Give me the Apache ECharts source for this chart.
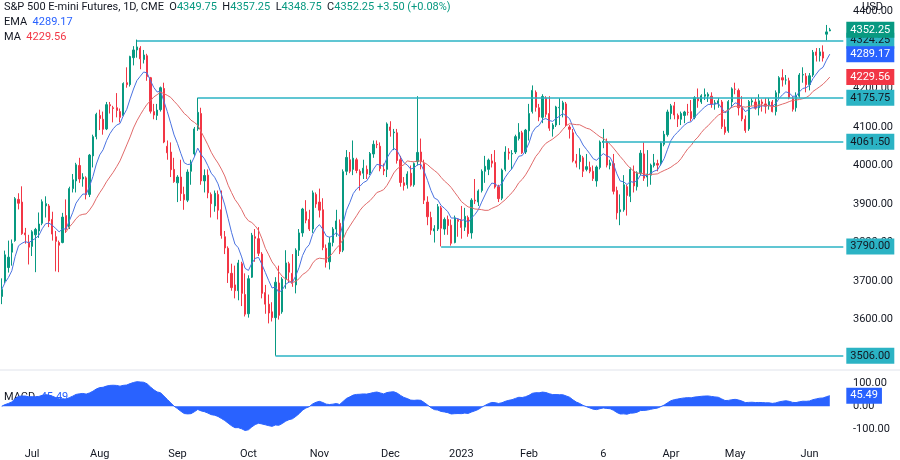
<!DOCTYPE html>
<html><head><meta charset="utf-8">
<script src="https://cdn.jsdelivr.net/npm/echarts@6/dist/echarts.min.js"></script>
<style>html,body{margin:0;padding:0;background:#fff}#c{width:900px;height:460px}</style>
</head><body><div id="c"></div>
<script>
const holidays=['2022-06-20','2022-07-04','2022-09-05','2022-11-24','2022-12-26','2023-01-02','2023-01-16','2023-02-20','2023-04-07','2023-05-29'];
const opens=[3660,3700,3735,3775,3805,3912,3905,3825,3800,3790,3820,3830,3850,3895,3895,3860,3815,3800,3800,3870,3840,3940,3960,4000,3965,3968,3925,4025,4075,4130,4120,4095,4158,4150,4150,4140,4130,4215,4210,4280,4300,4305,4275,4285,4228,4140,4130,4145,4200,4050,4035,3990,3955,3970,3925,3910,3985,4030,4095,4135,3960,3975,3925,3895,3925,3885,3815,3785,3720,3690,3675,3745,3665,3615,3710,3815,3810,3770,3670,3640,3620,3605,3695,3620,3705,3745,3720,3690,3780,3825,3880,3860,3835,3925,3905,3885,3785,3750,3800,3835,3850,3780,3985,4015,3990,4015,3985,3980,3990,3980,4030,4055,4050,3990,3990,4100,4085,4085,4015,3955,3950,3980,3950,4010,4035,4005,3905,3865,3830,3835,3890,3835,3860,3845,3800,3860,3860,3840,3865,3825,3910,3905,3935,3985,3990,4012,4008,3945,3915,3990,4035,4030,4035,4070,4085,4035,4090,4140,4190,4150,4125,4175,4135,4095,4105,4150,4145,4160,4100,4085,4012,4010,4020,3990,3995,3985,3960,3995,4060,4060,4000,4005,3935,3880,3885,3945,3920,3985,3945,3980,4030,3970,3975,4000,4005,4005,4055,4080,4135,4155,4130,4120,4130,4138,4140,4125,4175,4165,4180,4180,4180,4160,4160,4165,4100,4090,4165,4198,4195,4150,4120,4095,4165,4165,4150,4165,4160,4155,4165,4140,4188,4228,4222,4220,4175,4150,4180,4235,4232,4210,4235,4295,4285,4295,4341,4349.75];
const closes=[3678,3768,3762,3797,3914,3902,3823,3820,3788,3828,3834,3848,3906,3901,3856,3822,3803,3793,3866,3834,3940,3963,4002,3965,3970,3924,4027,4075,4133,4122,4094,4158,4155,4148,4143,4125,4213,4210,4283,4300,4308,4277,4287,4231,4141,4131,4144,4202,4061,4033,3989,3958,3970,3927,3911,3983,4009,4095,4138,3960,3974,3929,3901,3928,3884,3818,3786,3721,3683,3675,3747,3668,3614,3706,3819,3811,3772,3668,3640,3617,3605,3697,3611,3705,3747,3723,3694,3780,3825,3887,3858,3835,3929,3900,3884,3787,3748,3799,3835,3856,3777,3984,4021,3985,4019,3987,3975,3993,3978,4031,4055,4054,3992,3986,4108,4091,4087,4013,3956,3948,3978,3949,4005,4034,4010,3910,3867,3832,3836,3893,3837,3860,3844,3798,3864,3855,3839,3868,3823,3910,3908,3934,3985,3998,4014,4006,3944,3914,3988,4035,4032,4031,4075,4086,4033,4092,4135,4195,4151,4126,4179,4133,4097,4105,4152,4151,4163,4105,4094,4012,4006,4027,3985,3997,3985,3966,3996,4061,4063,4001,4007,3933,3877,3885,3950,3922,3990,3947,3981,4032,3967,3978,4001,4007,4001,4058,4081,4139,4155,4131,4121,4135,4139,4138,4122,4176,4168,4181,4184,4185,4160,4163,4168,4101,4086,4166,4199,4198,4150,4121,4091,4166,4168,4149,4168,4161,4154,4166,4140,4189,4228,4222,4222,4176,4146,4181,4235,4236,4210,4233,4294,4286,4295,4279,4347,4352.25];
const lows=[3640,3695,3722,3740,3802,3886,3820,3797,3743,3765,3723,3812,3845,3865,3840,3805,3725,3723,3798,3825,3835,3930,3930,3955,3945,3912,3918,3995,4068,4092,4080,4092,4135,4112,4125,4112,4128,4202,4205,4260,4280,4250,4265,4220,4135,4120,4118,4140,4058,4015,3970,3955,3905,3908,3885,3905,3950,4025,4090,3950,3930,3915,3865,3880,3860,3810,3770,3695,3675,3655,3650,3635,3608,3605,3708,3750,3765,3655,3615,3590,3595,3506,3600,3615,3680,3695,3685,3668,3765,3815,3850,3830,3825,3890,3865,3780,3735,3730,3790,3815,3770,3775,3975,3980,3975,3980,3935,3965,3965,3975,4020,4045,3985,3975,3970,4075,4040,4005,3945,3935,3940,3945,3945,4000,3990,3900,3845,3820,3800,3830,3790,3820,3820,3792,3798,3815,3810,3830,3815,3810,3900,3895,3930,3955,3975,3995,3940,3905,3910,3985,4015,3990,4030,4065,4030,4030,4065,4135,4140,4115,4110,4125,4090,4075,4100,4105,4125,4100,4070,4008,3995,3990,3970,3985,3980,3960,3945,3990,4045,3995,3990,3925,3860,3845,3880,3870,3905,3930,3935,3975,3960,3945,3950,3995,3985,4000,4050,4075,4120,4120,4100,4105,4110,4130,4115,4120,4150,4160,4170,4165,4150,4145,4150,4095,4080,4085,4150,4185,4130,4115,4085,4090,4155,4145,4130,4140,4135,4145,4138,4130,4175,4205,4210,4172,4140,4140,4175,4215,4190,4195,4230,4270,4270,4270,4325,4348.75];
const highs=[3707,3779,3805,3808,3918,3928,3946,3838,3820,3832,3838,3878,3912,3920,3900,3880,3830,3805,3877,3912,3945,3978,4007,4020,3980,3972,4030,4080,4137,4145,4140,4165,4165,4155,4188,4148,4216,4255,4285,4310,4327,4310,4300,4290,4230,4160,4160,4205,4215,4065,4060,4020,3975,4015,3945,3990,4015,4100,4176,4150,3990,3990,3930,3935,3935,3935,3830,3790,3745,3740,3755,3750,3720,3715,3825,3835,3840,3775,3690,3665,3645,3710,3740,3710,3780,3750,3770,3785,3835,3890,3910,3885,3935,3930,3940,3915,3795,3815,3840,3885,3860,3990,4040,4035,4065,4020,3990,4015,4000,4035,4065,4065,4060,4005,4112,4115,4095,4095,4025,3970,3985,4000,4008,4180,4070,4015,3920,3880,3845,3900,3895,3865,3870,3860,3870,3862,3895,3890,3870,3915,3965,3938,3990,4025,4018,4030,4040,3950,3992,4050,4045,4040,4080,4110,4090,4095,4160,4208,4195,4160,4185,4180,4180,4110,4155,4175,4168,4165,4105,4095,4030,4045,4025,4030,4010,4000,4000,4065,4095,4070,4015,4030,3945,3925,3975,3950,3995,4000,3985,4040,4060,4040,4005,4030,4015,4062,4090,4145,4160,4165,4135,4140,4142,4160,4170,4180,4200,4185,4200,4190,4190,4170,4175,4170,4120,4170,4203,4215,4200,4180,4130,4170,4175,4175,4185,4172,4175,4175,4170,4195,4232,4250,4235,4228,4180,4190,4240,4255,4240,4240,4300,4305,4305,4312,4365,4357.25];
const monthTicks={'2022-07-01':'Jul','2022-08-01':'Aug','2022-09-01':'Sep','2022-10-03':'Oct','2022-11-01':'Nov','2022-12-01':'Dec','2023-01-03':'2023','2023-02-01':'Feb','2023-03-06':'6','2023-04-03':'Apr','2023-05-01':'May','2023-06-01':'Jun'};
const levelValues=[4324.25,4175.75,4061.50,3790.00,3506.00];
const levelStarts=['2022-08-16','2022-09-12','2023-03-06','2022-12-22','2022-10-13'];
const priceTicks=[3600,3700,3800,3900,4000,4100,4200,4300,4400];
const macdTicks=[-100,0,100];

const dates=[];
for(let t=Date.UTC(2022,5,17);t<=Date.UTC(2023,5,9);t+=86400000){
  const d=new Date(t),w=d.getUTCDay(),s=d.toISOString().slice(0,10);
  if(w===0||w===6||holidays.includes(s))continue;dates.push(s);
}
const cats=dates.concat(['p1','p2','p3','p4']);
const n=closes.length;
const candle=closes.map((c,i)=>[opens[i],c,lows[i],highs[i]]);
function ema(arr,p){const k=2/(p+1);let e=null;return arr.map(v=>{e=e===null?v:v*k+e*(1-k);return e;});}
const ema9=ema(closes,9);
const ma20=closes.map((v,i)=>{if(i<19)return null;let s=0;for(let j=i-19;j<=i;j++)s+=closes[j];return s/20;});
const e12=ema(closes,12),e26=ema(closes,26);
const macd=closes.map((v,i)=>e12[i]-e26[i]);
const last=cats[cats.length-1];
const lastEma=ema9[n-1],lastMa=ma20[n-1],lastMacd=macd[n-1];
const lvlLabel=(v,bg,fg)=>({show:true,position:'end',distance:3,formatter:()=>v.toFixed(2),backgroundColor:bg,color:fg,padding:[3,4,2,4],fontSize:11,fontFamily:'Roboto'});
const hid={color:'rgba(0,0,0,0)'};
const pair=(start,v,bg,fg,ls)=>{const a={coord:[start,v],label:lvlLabel(v,bg,fg)},b={coord:[last,v],label:lvlLabel(v,bg,fg)};if(ls){a.lineStyle=ls;b.lineStyle=ls;}return [a,b];};
const levelLines=levelValues.map((v,i)=>pair(levelStarts[i],v,'#2BB3C4','#131722'));
levelLines.push(pair(dates[0],closes[n-1],'#089981','#fff',hid));
levelLines.push(pair(dates[0],lastEma,'#2962FF','#fff',hid));
levelLines.push(pair(dates[0],lastMa,'#F23645','#fff',hid));

const chart=echarts.init(document.getElementById('c'));
const g='#089981';
chart.setOption({
  animation:false,
  textStyle:{fontFamily:'Roboto'},
  grid:[{left:0,right:55,top:8,height:362},{left:0,right:55,top:371.5,height:75}],
  xAxis:[
    {type:'category',data:cats,gridIndex:0,axisLine:{show:false},axisTick:{show:false},axisLabel:{show:false},splitLine:{show:false}},
    {type:'category',data:cats,gridIndex:1,axisLine:{show:false},axisTick:{show:false},splitLine:{show:false},
     axisLabel:{interval:(i,v)=>!!monthTicks[v],formatter:v=>monthTicks[v]||'',color:'#131722',fontSize:11,margin:8}}
  ],
  yAxis:[
    {type:'value',gridIndex:0,position:'right',min:3469,max:4409,splitLine:{show:false},axisLine:{show:false},axisTick:{show:false},
     axisLabel:{color:'#131722',fontSize:11,margin:8,customValues:priceTicks,formatter:v=>v.toFixed(2)}},
    {type:'value',gridIndex:1,position:'right',min:-150,max:150,interval:50,splitLine:{show:false},axisLine:{show:false},axisTick:{show:false},
     axisLabel:{color:'#131722',fontSize:11,margin:8,formatter:v=>macdTicks.includes(v)?v.toFixed(2):''}}
  ],
  series:[
    {type:'candlestick',data:candle,xAxisIndex:0,yAxisIndex:0,barMaxWidth:3,
     itemStyle:{color:g,color0:'#F23645',borderColor:g,borderColor0:'#F23645',borderWidth:1},
     markLine:{silent:true,symbol:'none',lineStyle:{color:'#2BB3C4',width:1.5,type:'solid'},data:levelLines,animation:false}},
    {type:'line',data:ema9,xAxisIndex:0,yAxisIndex:0,showSymbol:false,lineStyle:{color:'#4A72E0',width:1}},
    {type:'line',data:ma20,xAxisIndex:0,yAxisIndex:0,showSymbol:false,lineStyle:{color:'#E06A6A',width:1}},
    {type:'line',data:macd,xAxisIndex:1,yAxisIndex:1,showSymbol:false,lineStyle:{color:'#2962FF',width:1},
     areaStyle:{color:'#2962FF',opacity:1,origin:0},
     markLine:{silent:true,symbol:'none',data:[pair(dates[0],lastMacd,'#2962FF','#fff',hid)]}}
  ],
  graphic:[
    {type:'text',left:4,top:2,style:{text:'S&P 500 E-mini Futures, 1D, CME  O{g|'+opens[n-1].toFixed(2)+'}  H{g|'+highs[n-1].toFixed(2)+'}  L{g|'+lows[n-1].toFixed(2)+'}  C{g|'+closes[n-1].toFixed(2)+' +3.50 (+0.08%)}',
      font:'11px Roboto',fill:'#131722',rich:{g:{fill:g,font:'11px Roboto'}}}},
    {type:'text',left:4,top:17,style:{text:'EMA  {b|'+lastEma.toFixed(2)+'}',font:'11px Roboto',fill:'#131722',rich:{b:{fill:'#2962FF',font:'11px Roboto'}}}},
    {type:'text',left:4,top:32,style:{text:'MA  {r|'+lastMa.toFixed(2)+'}',font:'11px Roboto',fill:'#131722',rich:{r:{fill:'#F23645',font:'11px Roboto'}}}},
    {type:'text',left:862,top:2,style:{text:'USD',font:'11px Roboto',fill:'#131722'}},
    {type:'line',shape:{x1:0,y1:370,x2:900,y2:370},style:{stroke:'#E0E3EB',lineWidth:1}},
    {type:'text',left:4,top:392,style:{text:'MACD  {b|'+lastMacd.toFixed(2)+'}',font:'11px Roboto',fill:'#131722',rich:{b:{fill:'#2962FF',font:'11px Roboto'}}}}
  ]
});
</script></body></html>
